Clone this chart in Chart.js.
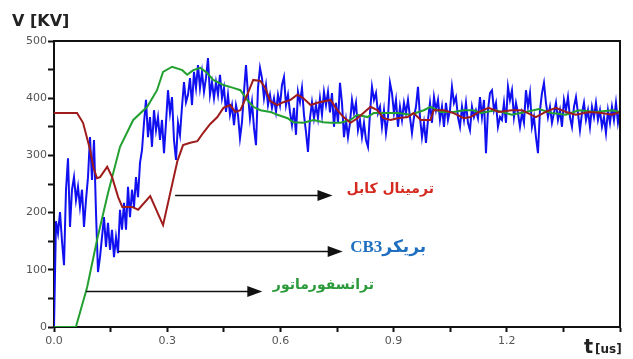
<!DOCTYPE html>
<html>
<head>
<meta charset="utf-8">
<script src="https://cdn.jsdelivr.net/npm/chart.js@4"></script>
<style>
  body { margin: 0; background: #fff; }
  canvas { display: block; }
</style>
</head>
<body>
<canvas id="chart" width="633" height="359"></canvas>
<script>
// tick labels shown on the axes
const xLabelValues = [0, 0.3, 0.6, 0.9, 1.2];
const yLabelValues = [0, 100, 200, 300, 400, 500];

// CB3 breaker voltage, sampled every blueStep us from t = 0
const blueStep = 0.0053;
const blueV = [
  0,185,164,201,150,108,240,295,175,240,
  262,222,245,210,240,175,222,262,332,257,
  327,200,96,122,157,192,140,182,135,170,
  122,157,129,205,170,217,170,245,192,240,
  210,262,227,287,309,357,397,332,367,315,
  379,344,367,327,362,304,357,414,374,402,
  327,292,357,336,385,428,393,406,435,388,
  446,418,458,418,446,411,435,470,406,428,
  400,428,406,441,400,418,376,406,371,388,
  353,388,371,330,358,411,458,406,365,393,
  348,318,418,453,435,400,423,388,406,383,
  400,376,406,388,423,437,388,406,376,353,
  383,336,411,393,418,371,341,306,365,393,
  365,388,365,400,371,411,388,411,375,409,
  350,392,357,427,392,332,362,332,357,397,
  374,392,344,362,332,357,327,315,374,420,
  397,409,374,385,350,379,339,367,427,409,
  374,397,350,385,362,392,374,397,367,339,
  367,385,420,367,332,357,322,362,392,357,
  402,379,397,362,385,350,392,362,379,420,
  392,402,367,350,385,362,392,357,344,385,
  367,379,365,402,367,397,304,379,409,414,
  379,392,350,367,362,392,357,420,397,414,
  367,392,374,350,374,357,414,385,409,350,
  367,332,304,379,409,427,392,367,385,357,
  374,392,362,379,350,397,379,402,367,350,
  385,402,374,344,374,392,362,379,350,385,
  367,392,362,379,350,367,339,379,357,385,
  362,392,357,379
];

// cable terminal voltage
const redT = [0, 0.061, 0.077, 0.096, 0.104, 0.114, 0.122, 0.141, 0.154, 0.170,
  0.181, 0.207, 0.223, 0.255, 0.289, 0.327, 0.342, 0.361, 0.380, 0.396,
  0.414, 0.433, 0.449, 0.467, 0.480, 0.494, 0.512, 0.528, 0.547, 0.560,
  0.573, 0.592, 0.608, 0.627, 0.645, 0.661, 0.680, 0.698, 0.733, 0.751,
  0.767, 0.786, 0.804, 0.820, 0.839, 0.857, 0.873, 0.892, 0.911, 0.937,
  0.953, 0.972, 0.998, 1.006, 1.033, 1.059, 1.086, 1.104, 1.126, 1.152,
  1.179, 1.213, 1.240, 1.277, 1.303, 1.330, 1.357, 1.383, 1.418, 1.452,
  1.479, 1.5];
const redV = [374, 374, 357, 309, 280, 260, 262, 280, 262, 227,
  210, 210, 205, 229, 178, 290, 318, 322, 325, 340,
  355, 367, 383, 388, 376, 379, 406, 432, 430, 418,
  395, 388, 393, 397, 406, 400, 388, 392, 397, 379,
  367, 357, 365, 374, 385, 379, 365, 362, 365, 367,
  374, 362, 362, 379, 379, 374, 365, 367, 376, 383,
  376, 379, 379, 367, 376, 383, 376, 371, 376, 374,
  371, 376];

// transformer voltage
const greenT = [0, 0.058, 0.088, 0.114, 0.143, 0.175, 0.210, 0.247, 0.273, 0.289,
  0.313, 0.340, 0.353, 0.369, 0.388, 0.406, 0.422, 0.449, 0.475, 0.494,
  0.512, 0.528, 0.547, 0.573, 0.592, 0.619, 0.634, 0.661, 0.688, 0.714,
  0.733, 0.759, 0.786, 0.804, 0.831, 0.847, 0.873, 0.911, 0.945, 0.980,
  0.998, 1.025, 1.059, 1.086, 1.112, 1.131, 1.171, 1.213, 1.250, 1.285,
  1.319, 1.356, 1.391, 1.436, 1.479, 1.5];
const greenV = [0, 0, 70, 152, 234, 315, 362, 385, 414, 446,
  455, 449, 441, 449, 453, 444, 432, 423, 418, 414,
  397, 385, 379, 376, 371, 365, 358, 357, 362, 358,
  357, 357, 362, 371, 367, 374, 374, 374, 371, 379,
  385, 376, 376, 379, 379, 374, 379, 371, 376, 381,
  374, 371, 379, 376, 379, 376];

// arrows pointing at the curve names (data units)
const arrowY = [231, 133, 63];
const arrowFrom = [0.321, 0.170, 0.085];
const arrowTo = [0.738, 0.765, 0.552];
const labelText = ["ترمينال کابل", "بريکرCB3", "ترانسفورماتور"];
const labelColor = ["#d42a20", "#1f6fc0", "#2a9a3a"];
const labelFont = ["bold 14px 'DejaVu Sans'", "bold 17px 'Liberation Serif', 'DejaVu Sans'", "bold 14px 'DejaVu Sans'"];
const labelAt = [[0.775, 241], [0.785, 139], [0.58, 73]];

const toPoints = (xs, ys) => ys.map((y, i) => ({x: xs[i], y}));
const bluePoints = blueV.map((y, i) => ({x: i * blueStep, y}));

const annotations = {
  id: 'annotations',
  afterDatasetsDraw(chart) {
    const {ctx, chartArea: a, scales: {x, y}} = chart;
    ctx.save();
    // top and right frame
    ctx.strokeStyle = '#111';
    ctx.lineWidth = 2;
    ctx.beginPath();
    ctx.moveTo(a.left, a.top);
    ctx.lineTo(a.right, a.top);
    ctx.lineTo(a.right, a.bottom);
    ctx.stroke();

    arrowY.forEach((v, i) => {
      const py = Math.round(y.getPixelForValue(v)) + 0.5;
      const x0 = x.getPixelForValue(arrowFrom[i]);
      const x1 = x.getPixelForValue(arrowTo[i]);
      ctx.strokeStyle = '#111';
      ctx.lineWidth = 1.6;
      ctx.beginPath();
      ctx.moveTo(x0, py);
      ctx.lineTo(x1 - 12, py);
      ctx.stroke();
      ctx.fillStyle = '#111';
      ctx.beginPath();
      ctx.moveTo(x1, py);
      ctx.lineTo(x1 - 15, py - 5.5);
      ctx.lineTo(x1 - 15, py + 5.5);
      ctx.closePath();
      ctx.fill();

      ctx.font = labelFont[i];
      ctx.fillStyle = labelColor[i];
      ctx.direction = 'rtl';
      ctx.textAlign = 'left';
      ctx.textBaseline = 'middle';
      ctx.fillText(labelText[i], x.getPixelForValue(labelAt[i][0]), y.getPixelForValue(labelAt[i][1]));
    });

    // axis titles
    ctx.direction = 'ltr';
    ctx.textAlign = 'left';
    ctx.textBaseline = 'alphabetic';
    ctx.fillStyle = '#222';
    ctx.font = "bold 16px 'DejaVu Sans'";
    ctx.fillText('V [KV]', 12, 26);
    ctx.font = "bold 19px 'DejaVu Sans'";
    ctx.fillText('t', 584, 353);
    ctx.font = "bold 12px 'DejaVu Sans'";
    ctx.fillText('[us]', 595, 353);
    ctx.restore();
  }
};

const tickFont = {family: "'DejaVu Sans'", size: 11};

new Chart(document.getElementById('chart'), {
  type: 'line',
  data: {
    datasets: [{
      label: 'CB3',
      data: bluePoints,
      borderColor: '#1010f0',
      borderWidth: 2,
      pointRadius: 0,
      tension: 0,
      order: 3,
    }, {
      label: 'Transformer',
      data: toPoints(greenT, greenV),
      borderColor: '#22a030',
      borderWidth: 2,
      pointRadius: 0,
      tension: 0,
      order: 2,
    }, {
      label: 'Cable terminal',
      data: toPoints(redT, redV),
      borderColor: '#9e1c1c',
      borderWidth: 2,
      pointRadius: 0,
      tension: 0,
      order: 1,
    }],
  },
  options: {
    responsive: false,
    animation: false,
    layout: {padding: {left: 0, top: 41, right: 13, bottom: 0}},
    scales: {
      x: {
        type: 'linear',
        min: 0,
        max: 1.5,
        afterFit: (scale) => { scale.height = 32; },
        border: {color: '#111', width: 2},
        grid: {drawOnChartArea: false, tickLength: 5, tickColor: '#111', tickWidth: 2},
        ticks: {
          stepSize: 0.15,
          autoSkip: false,
          maxRotation: 0,
          padding: 3,
          color: '#555',
          font: tickFont,
          callback: (v) => xLabelValues.some(l => Math.abs(l - v) < 1e-6) ? Number(v).toFixed(1) : '',
        },
      },
      y: {
        min: 0,
        max: 500,
        afterFit: (scale) => { scale.width = 54; },
        border: {color: '#111', width: 2},
        grid: {drawOnChartArea: false, tickLength: 6, tickColor: '#111', tickWidth: 2},
        ticks: {
          stepSize: 50,
          autoSkip: false,
          padding: 1,
          color: '#555',
          font: tickFont,
          callback: (v) => yLabelValues.includes(v) ? String(v) : '',
        },
      },
    },
    plugins: {
      legend: {display: false},
      tooltip: {enabled: false},
    },
  },
  plugins: [annotations],
});
</script>
</body>
</html>
